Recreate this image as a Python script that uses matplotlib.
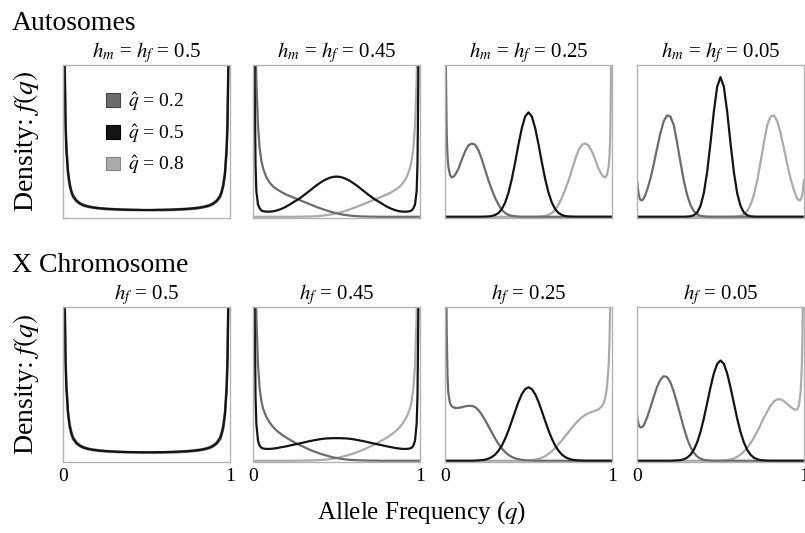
import matplotlib.pyplot as plt
from matplotlib.patches import Patch

plt.rcParams['font.family'] = ['Liberation Serif', 'DejaVu Serif']
plt.rcParams['mathtext.fontset'] = 'stix'

# allele frequency grid (denser at the edges where the densities blow up)
q = [0, 0.005, 0.01, 0.015, 0.02, 0.03, 0.04, 0.05,
     0.06, 0.08, 0.10, 0.12, 0.14, 0.16, 0.18, 0.20, 0.22,
     0.24, 0.26, 0.28, 0.30, 0.32, 0.34, 0.36, 0.38, 0.40,
     0.42, 0.44, 0.46, 0.48, 0.50, 0.52, 0.54, 0.56, 0.58,
     0.60, 0.62, 0.64, 0.66, 0.68, 0.70, 0.72, 0.74, 0.76,
     0.78, 0.80, 0.82, 0.84, 0.86, 0.88, 0.90, 0.92, 0.94,
     0.95, 0.96, 0.97, 0.98, 0.985, 0.99, 0.995, 1.0]

# ---- Autosomes, h = 0.5 ----
auto1_q02 = [5, 2.2, 1.1, 0.68, 0.49, 0.31, 0.225, 0.175,
             0.143, 0.111, 0.093, 0.081, 0.074, 0.068, 0.064, 0.061, 0.058,
             0.056, 0.054, 0.053, 0.052, 0.050, 0.049, 0.048, 0.047, 0.047,
             0.046, 0.045, 0.045, 0.044, 0.044, 0.044, 0.043, 0.043, 0.043,
             0.043, 0.043, 0.044, 0.044, 0.045, 0.046, 0.047, 0.048, 0.050,
             0.052, 0.054, 0.057, 0.061, 0.066, 0.072, 0.083, 0.099, 0.127,
             0.155, 0.2, 0.27, 0.42, 0.58, 0.95, 1.9, 5]
auto1_q05 = [5, 2.0, 1.0, 0.62, 0.45, 0.29, 0.21, 0.165,
             0.135, 0.105, 0.088, 0.077, 0.070, 0.065, 0.061, 0.058, 0.056,
             0.054, 0.052, 0.051, 0.050, 0.049, 0.048, 0.047, 0.047, 0.046,
             0.046, 0.046, 0.045, 0.045, 0.045, 0.045, 0.045, 0.046, 0.046,
             0.046, 0.047, 0.047, 0.048, 0.049, 0.050, 0.051, 0.052, 0.054,
             0.056, 0.058, 0.061, 0.065, 0.070, 0.077, 0.088, 0.105, 0.135,
             0.165, 0.21, 0.29, 0.45, 0.62, 1.0, 2.0, 5]
auto1_q08 = [5, 1.9, 0.95, 0.58, 0.42, 0.27, 0.2, 0.155,
             0.127, 0.099, 0.083, 0.072, 0.066, 0.061, 0.057, 0.054, 0.052,
             0.050, 0.048, 0.047, 0.046, 0.045, 0.044, 0.044, 0.043, 0.043,
             0.043, 0.043, 0.043, 0.044, 0.044, 0.044, 0.045, 0.045, 0.046,
             0.047, 0.047, 0.048, 0.049, 0.050, 0.052, 0.053, 0.054, 0.056,
             0.058, 0.061, 0.064, 0.068, 0.074, 0.081, 0.093, 0.111, 0.143,
             0.175, 0.225, 0.31, 0.49, 0.68, 1.1, 2.2, 5]

# ---- Autosomes, h = 0.45 ----
auto2_q02 = [5, 3.0, 1.8, 1.2, 0.9, 0.6, 0.45, 0.37,
             0.32, 0.26, 0.225, 0.2, 0.183, 0.17, 0.157, 0.146, 0.137,
             0.128, 0.119, 0.11, 0.101, 0.092, 0.083, 0.074, 0.065, 0.057,
             0.049, 0.042, 0.035, 0.029, 0.023, 0.018, 0.014, 0.011, 0.008,
             0.006, 0.004, 0.003, 0.002, 0.0015, 0.001, 0.001, 0, 0,
             0, 0, 0, 0, 0, 0, 0, 0, 0,
             0, 0, 0, 0, 0, 0, 0, 0]
auto2_q05 = [5, 2.5, 0.9, 0.35, 0.17, 0.08, 0.055, 0.042,
             0.037, 0.034, 0.034, 0.036, 0.041, 0.048, 0.057, 0.068, 0.081,
             0.095, 0.108, 0.122, 0.138, 0.155, 0.172, 0.19, 0.207, 0.222,
             0.237, 0.248, 0.257, 0.263, 0.265, 0.263, 0.257, 0.248, 0.237,
             0.222, 0.207, 0.19, 0.172, 0.155, 0.138, 0.122, 0.108, 0.095,
             0.081, 0.068, 0.057, 0.048, 0.041, 0.036, 0.034, 0.034, 0.037,
             0.042, 0.055, 0.08, 0.17, 0.35, 0.9, 2.5, 5]
auto2_q08 = [0, 0, 0, 0, 0, 0, 0, 0,
             0, 0, 0, 0, 0, 0, 0, 0, 0,
             0, 0, 0.001, 0.001, 0.0015, 0.002, 0.003, 0.004, 0.006,
             0.008, 0.011, 0.014, 0.018, 0.023, 0.029, 0.035, 0.042, 0.049,
             0.057, 0.065, 0.074, 0.083, 0.092, 0.101, 0.11, 0.119, 0.128,
             0.137, 0.146, 0.157, 0.17, 0.183, 0.2, 0.225, 0.26, 0.32,
             0.37, 0.45, 0.6, 0.9, 1.2, 1.8, 3.0, 5]

# ---- Autosomes, h = 0.25 ----
auto3_q02 = [5, 1.0, 0.55, 0.4, 0.33, 0.275, 0.26, 0.263,
             0.275, 0.315, 0.375, 0.43, 0.47, 0.483, 0.475, 0.44, 0.38,
             0.31, 0.24, 0.18, 0.125, 0.08, 0.045, 0.025, 0.013, 0.006,
             0.003, 0.001, 0, 0, 0, 0, 0, 0, 0,
             0, 0, 0, 0, 0, 0, 0, 0, 0,
             0, 0, 0, 0, 0, 0, 0, 0, 0,
             0, 0, 0, 0, 0, 0, 0, 0]
auto3_q05 = [0, 0, 0, 0, 0, 0, 0, 0,
             0, 0, 0, 0, 0, 0, 0, 0, 0,
             0.001, 0.002, 0.005, 0.012, 0.025, 0.05, 0.093, 0.158, 0.248,
             0.358, 0.477, 0.584, 0.661, 0.688, 0.661, 0.584, 0.477, 0.358,
             0.248, 0.158, 0.093, 0.05, 0.025, 0.012, 0.005, 0.002, 0.001,
             0, 0, 0, 0, 0, 0, 0, 0, 0,
             0, 0, 0, 0, 0, 0, 0, 0]
auto3_q08 = [0, 0, 0, 0, 0, 0, 0, 0,
             0, 0, 0, 0, 0, 0, 0, 0, 0,
             0, 0, 0, 0, 0, 0, 0, 0, 0,
             0, 0, 0, 0, 0, 0, 0, 0.001, 0.003,
             0.006, 0.013, 0.025, 0.045, 0.08, 0.125, 0.18, 0.24, 0.31,
             0.38, 0.44, 0.475, 0.483, 0.47, 0.43, 0.375, 0.315, 0.275,
             0.263, 0.26, 0.275, 0.33, 0.4, 0.55, 1.0, 5]

# ---- Autosomes, h = 0.05 ----
auto4_q02 = [0.24, 0.19, 0.15, 0.125, 0.112, 0.108, 0.12, 0.145,
             0.175, 0.25, 0.345, 0.45, 0.55, 0.63, 0.668, 0.66, 0.605,
             0.49, 0.36, 0.24, 0.145, 0.078, 0.038, 0.016, 0.006, 0.003,
             0.001, 0, 0, 0, 0, 0, 0, 0, 0,
             0, 0, 0, 0, 0, 0, 0, 0, 0,
             0, 0, 0, 0, 0, 0, 0, 0, 0,
             0, 0, 0, 0, 0, 0, 0, 0]
auto4_q05 = [0, 0, 0, 0, 0, 0, 0, 0,
             0, 0, 0, 0, 0, 0, 0, 0, 0,
             0, 0, 0, 0.001, 0.003, 0.01, 0.028, 0.071, 0.155,
             0.295, 0.485, 0.692, 0.857, 0.92, 0.857, 0.692, 0.485, 0.295,
             0.155, 0.071, 0.028, 0.01, 0.003, 0.001, 0, 0, 0,
             0, 0, 0, 0, 0, 0, 0, 0, 0,
             0, 0, 0, 0, 0, 0, 0, 0]
auto4_q08 = [0, 0, 0, 0, 0, 0, 0, 0,
             0, 0, 0, 0, 0, 0, 0, 0, 0,
             0, 0, 0, 0, 0, 0, 0, 0, 0,
             0, 0, 0, 0, 0, 0, 0, 0, 0.001,
             0.003, 0.006, 0.016, 0.038, 0.078, 0.145, 0.24, 0.36, 0.49,
             0.605, 0.66, 0.668, 0.63, 0.55, 0.45, 0.345, 0.25, 0.175,
             0.145, 0.12, 0.108, 0.112, 0.125, 0.15, 0.19, 0.24]

# ---- X chromosome, hf = 0.5 ----
xchr1_q02 = [5, 2.3, 1.15, 0.72, 0.52, 0.33, 0.24, 0.19,
             0.155, 0.122, 0.103, 0.091, 0.084, 0.078, 0.074, 0.071, 0.068,
             0.066, 0.064, 0.063, 0.062, 0.060, 0.059, 0.058, 0.057, 0.057,
             0.056, 0.055, 0.055, 0.054, 0.054, 0.054, 0.053, 0.053, 0.053,
             0.053, 0.053, 0.054, 0.054, 0.055, 0.056, 0.057, 0.058, 0.060,
             0.062, 0.064, 0.067, 0.071, 0.076, 0.082, 0.093, 0.109, 0.137,
             0.166, 0.21, 0.29, 0.45, 0.62, 1.0, 2.0, 5]
xchr1_q05 = [5, 2.1, 1.05, 0.66, 0.48, 0.31, 0.225, 0.178,
             0.146, 0.115, 0.098, 0.087, 0.080, 0.075, 0.071, 0.068, 0.066,
             0.064, 0.062, 0.061, 0.060, 0.059, 0.058, 0.057, 0.057, 0.056,
             0.056, 0.056, 0.055, 0.055, 0.055, 0.055, 0.055, 0.056, 0.056,
             0.056, 0.057, 0.057, 0.058, 0.059, 0.060, 0.061, 0.062, 0.064,
             0.066, 0.068, 0.071, 0.075, 0.080, 0.087, 0.098, 0.115, 0.146,
             0.178, 0.225, 0.31, 0.48, 0.66, 1.05, 2.1, 5]
xchr1_q08 = [5, 2.0, 1.0, 0.62, 0.45, 0.29, 0.21, 0.166,
             0.137, 0.109, 0.093, 0.082, 0.076, 0.071, 0.067, 0.064, 0.062,
             0.060, 0.058, 0.057, 0.056, 0.055, 0.054, 0.054, 0.053, 0.053,
             0.053, 0.053, 0.053, 0.054, 0.054, 0.054, 0.055, 0.055, 0.056,
             0.057, 0.057, 0.058, 0.059, 0.060, 0.062, 0.063, 0.064, 0.066,
             0.068, 0.071, 0.074, 0.078, 0.084, 0.091, 0.103, 0.122, 0.155,
             0.19, 0.24, 0.33, 0.52, 0.72, 1.15, 2.3, 5]

# ---- X chromosome, hf = 0.45 ----
xchr2_q02 = [5, 3.2, 1.9, 1.3, 0.95, 0.62, 0.47, 0.39,
             0.34, 0.285, 0.248, 0.22, 0.198, 0.18, 0.164, 0.15, 0.137,
             0.125, 0.113, 0.102, 0.092, 0.082, 0.072, 0.063, 0.055, 0.047,
             0.04, 0.034, 0.028, 0.022, 0.018, 0.014, 0.011, 0.008, 0.006,
             0.005, 0.004, 0.003, 0.002, 0.002, 0.001, 0.001, 0.001, 0,
             0, 0, 0, 0, 0, 0, 0, 0, 0,
             0, 0, 0, 0, 0, 0, 0, 0]
xchr2_q05 = [5, 2.5, 0.95, 0.42, 0.24, 0.13, 0.098, 0.085,
             0.080, 0.077, 0.077, 0.079, 0.082, 0.086, 0.090, 0.094, 0.099,
             0.104, 0.108, 0.113, 0.118, 0.123, 0.128, 0.132, 0.136, 0.140,
             0.143, 0.145, 0.146, 0.147, 0.147, 0.147, 0.146, 0.145, 0.143,
             0.140, 0.136, 0.132, 0.128, 0.123, 0.118, 0.113, 0.108, 0.104,
             0.099, 0.094, 0.090, 0.086, 0.082, 0.079, 0.077, 0.077, 0.080,
             0.085, 0.098, 0.13, 0.24, 0.42, 0.95, 2.5, 5]
xchr2_q08 = [0, 0, 0, 0, 0, 0, 0, 0,
             0, 0, 0, 0, 0, 0, 0, 0, 0,
             0, 0.001, 0.001, 0.001, 0.002, 0.002, 0.003, 0.004, 0.005,
             0.006, 0.008, 0.011, 0.014, 0.018, 0.022, 0.028, 0.034, 0.04,
             0.047, 0.055, 0.063, 0.072, 0.082, 0.092, 0.102, 0.113, 0.125,
             0.137, 0.15, 0.164, 0.18, 0.198, 0.22, 0.248, 0.285, 0.34,
             0.39, 0.47, 0.62, 0.95, 1.3, 1.9, 3.2, 5]

# ---- X chromosome, hf = 0.25 ----
xchr3_q02 = [5, 1.6, 0.85, 0.55, 0.44, 0.375, 0.355, 0.347,
             0.344, 0.344, 0.348, 0.354, 0.357, 0.357, 0.35, 0.33, 0.3,
             0.265, 0.225, 0.185, 0.145, 0.11, 0.08, 0.057, 0.038, 0.025,
             0.016, 0.01, 0.006, 0.003, 0.002, 0.001, 0, 0, 0,
             0, 0, 0, 0, 0, 0, 0, 0, 0,
             0, 0, 0, 0, 0, 0, 0, 0, 0,
             0, 0, 0, 0, 0, 0, 0, 0]
xchr3_q05 = [0, 0, 0, 0, 0, 0, 0, 0,
             0, 0, 0, 0, 0, 0, 0.001, 0.002, 0.004,
             0.007, 0.014, 0.024, 0.04, 0.065, 0.098, 0.143, 0.197, 0.258,
             0.322, 0.383, 0.433, 0.466, 0.478, 0.466, 0.433, 0.383, 0.322,
             0.258, 0.197, 0.143, 0.098, 0.065, 0.04, 0.024, 0.014, 0.007,
             0.004, 0.002, 0.001, 0, 0, 0, 0, 0, 0,
             0, 0, 0, 0, 0, 0, 0, 0]
xchr3_q08 = [0, 0, 0, 0, 0, 0, 0, 0,
             0, 0, 0, 0, 0, 0, 0, 0, 0,
             0, 0, 0, 0, 0, 0, 0, 0, 0,
             0, 0, 0, 0.001, 0.002, 0.004, 0.007, 0.012, 0.02,
             0.03, 0.045, 0.062, 0.083, 0.107, 0.133, 0.16, 0.187, 0.214,
             0.24, 0.263, 0.283, 0.298, 0.31, 0.318, 0.325, 0.335, 0.355,
             0.375, 0.41, 0.48, 0.62, 0.78, 1.05, 1.7, 5]

# ---- X chromosome, hf = 0.05 ----
xchr4_q02 = [0.3, 0.26, 0.235, 0.222, 0.217, 0.218, 0.23, 0.255,
             0.28, 0.345, 0.415, 0.48, 0.527, 0.55, 0.545, 0.51, 0.45,
             0.375, 0.295, 0.215, 0.145, 0.09, 0.052, 0.028, 0.014, 0.006,
             0.003, 0.001, 0, 0, 0, 0, 0, 0, 0,
             0, 0, 0, 0, 0, 0, 0, 0, 0,
             0, 0, 0, 0, 0, 0, 0, 0, 0,
             0, 0, 0, 0, 0, 0, 0, 0]
xchr4_q05 = [0, 0, 0, 0, 0, 0, 0, 0,
             0, 0, 0, 0, 0, 0, 0, 0, 0.001,
             0.002, 0.0045, 0.01, 0.02, 0.039, 0.071, 0.119, 0.187, 0.274,
             0.375, 0.477, 0.568, 0.63, 0.652, 0.63, 0.568, 0.477, 0.375,
             0.274, 0.187, 0.119, 0.071, 0.039, 0.02, 0.01, 0.0045, 0.002,
             0.001, 0, 0, 0, 0, 0, 0, 0, 0,
             0, 0, 0, 0, 0, 0, 0, 0]
xchr4_q08 = [0, 0, 0, 0, 0, 0, 0, 0,
             0, 0, 0, 0, 0, 0, 0, 0, 0,
             0, 0, 0, 0, 0, 0, 0, 0, 0,
             0, 0, 0, 0.0005, 0.001, 0.002, 0.004, 0.008, 0.015,
             0.026, 0.04, 0.06, 0.085, 0.115, 0.15, 0.19, 0.235, 0.28,
             0.32, 0.358, 0.385, 0.4, 0.4, 0.388, 0.37, 0.35, 0.335,
             0.332, 0.335, 0.36, 0.45, 0.55, 0.75, 1.2, 5]

auto_titles = [r'$h_m$ = $h_f$ = 0.5', r'$h_m$ = $h_f$ = 0.45',
               r'$h_m$ = $h_f$ = 0.25', r'$h_m$ = $h_f$ = 0.05']
xchr_titles = [r'$h_f$ = 0.5', r'$h_f$ = 0.45', r'$h_f$ = 0.25', r'$h_f$ = 0.05']
legend_labels = [r'$\hat{q}$ = 0.2', r'$\hat{q}$ = 0.5', r'$\hat{q}$ = 0.8']

auto_curves = [(auto1_q02, auto1_q05, auto1_q08), (auto2_q02, auto2_q05, auto2_q08),
               (auto3_q02, auto3_q05, auto3_q08), (auto4_q02, auto4_q05, auto4_q08)]
xchr_curves = [(xchr1_q02, xchr1_q05, xchr1_q08), (xchr2_q02, xchr2_q05, xchr2_q08),
               (xchr3_q02, xchr3_q05, xchr3_q08), (xchr4_q02, xchr4_q05, xchr4_q08)]

for group in auto_curves + xchr_curves:
    for ys in group:
        assert len(ys) == len(q), len(ys)

c_lo, c_mid, c_hi = '#6c6c6c', '#141414', '#ababab'
edge_lo, edge_mid, edge_hi = '#454545', '#000000', '#858585'

W, H = 805, 533
fig = plt.figure(figsize=(W / 100, H / 100), dpi=100)

lefts = [63, 253, 445, 637]
pw = 167
rows = [(65, 218), (307, 462)]


def make_panel(left, top, bottom, curves, title, show_x):
    ax = fig.add_axes([left / W, 1 - bottom / H, pw / W, (bottom - top) / H])
    lo, mid, hi = curves
    ax.plot(q, hi, color=c_hi, lw=1.6)
    ax.plot(q, lo, color=c_lo, lw=1.6)
    ax.plot(q, mid, color=c_mid, lw=1.6)
    ax.set_xlim(0, 1)
    ax.set_ylim(-0.008, 1)
    for s in ax.spines.values():
        s.set_color('#b3b3b3')
        s.set_linewidth(1.0)
    ax.set_yticks([])
    if show_x:
        ax.set_xticks([0, 1])
        ax.set_xticklabels(['0', '1'])
        ax.tick_params(axis='x', length=0, pad=4, labelsize=14)
    else:
        ax.set_xticks([])
    ax.set_title(title, fontsize=15, pad=4)
    return ax


axes_top = []
for i in range(4):
    axes_top.append(make_panel(lefts[i], rows[0][0], rows[0][1], auto_curves[i], auto_titles[i], False))
for i in range(4):
    make_panel(lefts[i], rows[1][0], rows[1][1], xchr_curves[i], xchr_titles[i], True)

handles = [Patch(facecolor=c_lo, edgecolor=edge_lo, lw=0.8),
           Patch(facecolor=c_mid, edgecolor=edge_mid, lw=0.8),
           Patch(facecolor=c_hi, edgecolor=edge_hi, lw=0.8)]
axes_top[0].legend(handles, legend_labels, loc='upper left', bbox_to_anchor=(0.2, 0.90),
                   frameon=False, fontsize=14, handlelength=0.7, handleheight=0.7,
                   handletextpad=0.4, labelspacing=0.45, borderpad=0)

fig.text(12 / W, 1 - 30 / H, 'Autosomes', fontsize=20, va='baseline', ha='left')
fig.text(12 / W, 1 - 272 / H, 'X Chromosome', fontsize=20, va='baseline', ha='left')
for top, bottom in rows:
    fig.text(26 / W, 1 - (top + bottom) / 2 / H, 'Density: $f(q)$', fontsize=20,
             rotation=90, va='center', ha='center')
fig.text(422 / W, 1 - 513 / H, 'Allele Frequency ($q$)', fontsize=18, va='center', ha='center')

fig.savefig('out.png', dpi=100)
